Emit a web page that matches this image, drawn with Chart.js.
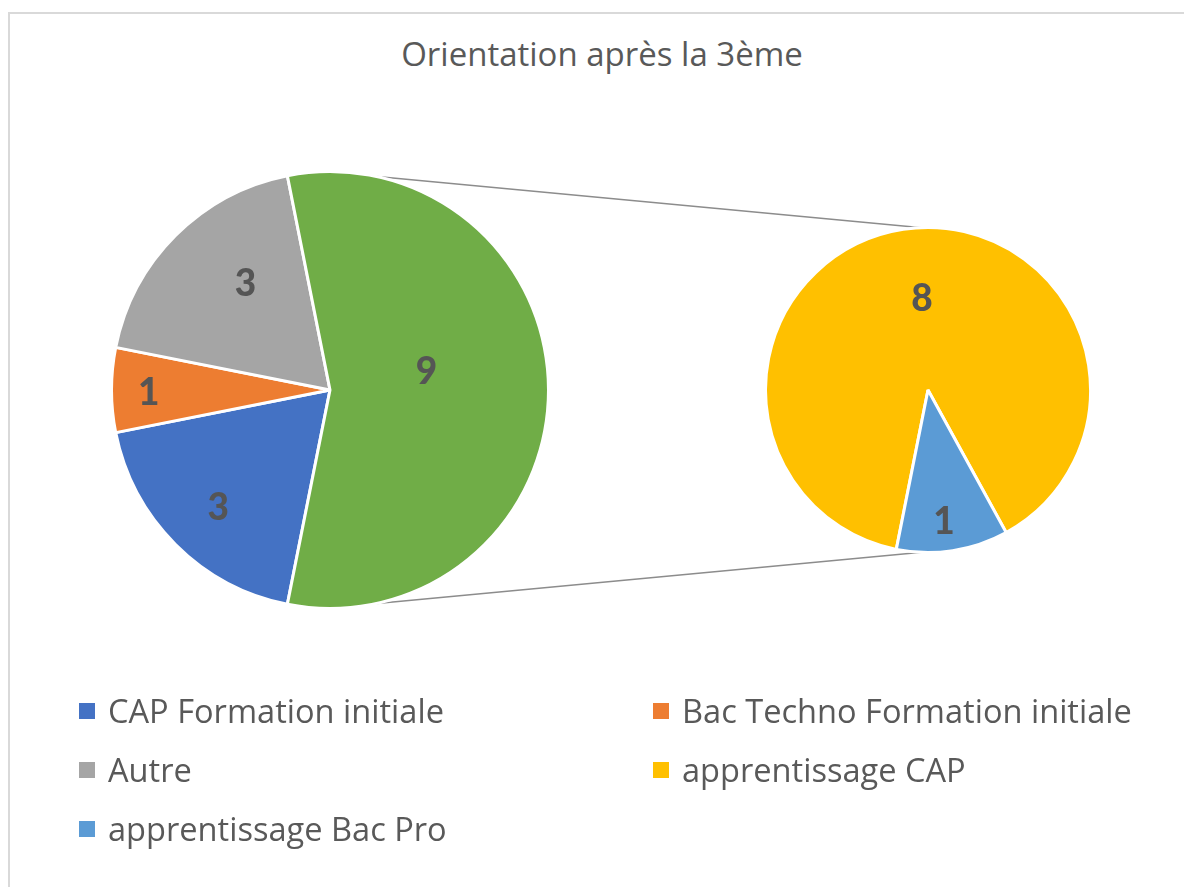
<!DOCTYPE html>
<html>
<head>
<meta charset="utf-8">
<script src="https://cdn.jsdelivr.net/npm/chart.js@4.4.1/dist/chart.umd.min.js"></script>
<style>
  body { margin: 0; background: #fff; }
  #wrap { position: relative; width: 1184px; height: 887px; overflow: hidden; font-family: "Open Sans", "Noto Sans", sans-serif; color: #595959; font-variant-ligatures: none; }
  #frame { position: absolute; left: 8px; top: 12px; width: 1200px; height: 900px; border: 2px solid #d9d9d9; box-sizing: border-box; }
  #title { position: absolute; left: 0; width: 1204px; text-align: center; font-size: 33px; top: 31px; white-space: nowrap; }
  #lines { position: absolute; left: 0; top: 0; }
  #mainPie { position: absolute; left: 110px; top: 170px; }
  #subPie { position: absolute; left: 764px; top: 226px; }
  .leg { position: absolute; font-size: 32.6px; white-space: nowrap; }
  .leg .sq { position: absolute; left: 0; top: 15px; width: 16px; height: 16px; }
  .leg .tx { position: absolute; left: 29px; top: 0; }
</style>
</head>
<body>
<div id="wrap">
  <div id="frame"></div>
  <div id="title">Orientation après la 3ème</div>
  <canvas id="lines" width="1184" height="887"></canvas>
  <canvas id="mainPie" width="440" height="440"></canvas>
  <canvas id="subPie" width="328" height="328"></canvas>
  <div id="legend"></div>
</div>
<script>
// main pie
const mainLabels = ['CAP Formation initiale', 'Bac Techno Formation initiale', 'Autre'];
const mainValues = [3, 1, 3];
const mainColors = ['#4472C4', '#ED7D31', '#A5A5A5'];
const otherColor = '#70AD47';

// secondary pie (apprentissage)
const subLabels = ['apprentissage CAP', 'apprentissage Bac Pro'];
const subValues = [8, 1];
const subColors = ['#FFC000', '#5B9BD5'];

const otherValue = subValues.reduce((a, b) => a + b, 0);
const total = mainValues.reduce((a, b) => a + b, 0) + otherValue;
// "other" slice centred on the right side (3 o'clock)
const rotation = 90 - 360 + otherValue / total * 180;

// label placement per slice: [angle shift in degrees, radius fraction]
const mainLabelPos = [[-1.3, 0.74], [-0.8, 0.83], [6.7, 0.625], [-10.9, 0.45]];
const subLabelPos = [[5, 0.57], [1.75, 0.81]];

const valueLabels = {
  id: 'valueLabels',
  afterDatasetsDraw(chart, args, opts) {
    const ctx = chart.ctx;
    const meta = chart.getDatasetMeta(0);
    const data = chart.data.datasets[0].data;
    ctx.save();
    ctx.font = '900 37px Lato, sans-serif';
    ctx.fillStyle = '#555555';
    ctx.textAlign = 'center';
    ctx.textBaseline = 'middle';
    meta.data.forEach((arc, i) => {
      const p = arc.getProps(['x', 'y', 'startAngle', 'endAngle', 'outerRadius'], true);
      const pos = opts.pos[i];
      const a = (p.startAngle + p.endAngle) / 2 + pos[0] * Math.PI / 180;
      const r = p.outerRadius * pos[1];
      ctx.fillText(String(data[i]), p.x + Math.cos(a) * r, p.y + Math.sin(a) * r + 1);
    });
    ctx.restore();
  }
};

function pieOptions(pos) {
  return {
    responsive: false,
    animation: false,
    rotation: rotation,
    layout: { padding: 0 },
    plugins: {
      legend: { display: false },
      tooltip: { enabled: false },
      valueLabels: { pos: pos }
    }
  };
}

const mainChart = new Chart(document.getElementById('mainPie'), {
  type: 'pie',
  data: {
    labels: mainLabels.concat(['apprentissage']),
    datasets: [{
      data: mainValues.concat([otherValue]),
      backgroundColor: mainColors.concat([otherColor]),
      borderColor: '#ffffff',
      borderWidth: 3
    }]
  },
  options: pieOptions(mainLabelPos),
  plugins: [valueLabels]
});

const subChart = new Chart(document.getElementById('subPie'), {
  type: 'pie',
  data: {
    labels: subLabels,
    datasets: [{
      data: subValues,
      backgroundColor: subColors,
      borderColor: '#ffffff',
      borderWidth: 3
    }]
  },
  options: pieOptions(subLabelPos),
  plugins: [valueLabels]
});

// connector lines: outer tangents between the two pies
function pieCircle(chart, canvasId) {
  const el = document.getElementById(canvasId);
  const arc = chart.getDatasetMeta(0).data[0];
  return { x: el.offsetLeft + arc.x, y: el.offsetTop + arc.y, r: arc.outerRadius - 1.5 };
}
const c1 = pieCircle(mainChart, 'mainPie');
const c2 = pieCircle(subChart, 'subPie');
const d = c2.x - c1.x;
const phi = Math.asin((c1.r - c2.r) / d);
const lctx = document.getElementById('lines').getContext('2d');
lctx.strokeStyle = '#8c8c8c';
lctx.lineWidth = 1.5;
[-1, 1].forEach(s => {
  lctx.beginPath();
  lctx.moveTo(c1.x + c1.r * Math.sin(phi), c1.y + s * c1.r * Math.cos(phi));
  lctx.lineTo(c2.x + c2.r * Math.sin(phi), c2.y + s * c2.r * Math.cos(phi));
  lctx.stroke();
});

// legend, two columns
const legLabels = mainLabels.concat(subLabels);
const legColors = mainColors.concat(subColors);
const legend = document.getElementById('legend');
legLabels.forEach((lab, i) => {
  const item = document.createElement('div');
  item.className = 'leg';
  item.style.left = (i % 2 === 0 ? 79 : 653) + 'px';
  item.style.top = (688 + Math.floor(i / 2) * 59) + 'px';
  item.innerHTML = '<span class="sq" style="background:' + legColors[i] + '"></span><span class="tx"></span>';
  item.querySelector('.tx').textContent = lab;
  legend.appendChild(item);
});
</script>
</body>
</html>
